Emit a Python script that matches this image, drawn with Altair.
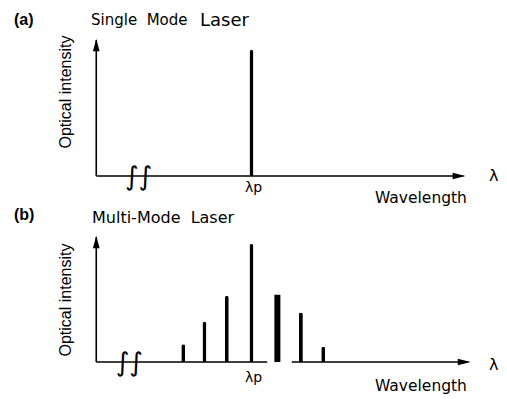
import altair as alt
import pandas as pd

# ---------------- data ----------------
single_mode_number = [0]
single_mode_offset = [0.0]          # wavelength offset from λp (mode spacings)
single_mode_intensity = [1.0]       # relative optical intensity

multi_mode_number = [-3, -2, -1, 0, 1, 2, 3]
multi_mode_offset = [-2.9, -2.0, -1.05, 0.0, 1.1, 2.1, 3.05]
multi_mode_intensity = [0.15, 0.34, 0.56, 1.0, 0.57, 0.42, 0.13]

panel_tags = ["(a)", "(b)"]
title_a = ["Single\u00a0\u00a0Mode", "Laser"]
title_b = ["Multi-Mode\u00a0\u00a0Laser"]
y_title = "Optical intensity"
x_title = "Wavelength"
x_symbol = "λ"
peak_label = "λp"
break_mark = "∫∫"

# ---------------- layout constants ----------------
W = 507
X_DOM = [-10.48, 10.65]
AXIS_X0 = -6.6
SANS = "Liberation Sans"
NARROW = "Liberation Sans Narrow, Liberation Sans"
DJ = "DejaVu Sans"
UP = "M0,-1L0.55,1L-0.55,1Z"
RIGHT = "M1,0L-1,0.5L-1,-0.5Z"

ONE = pd.DataFrame({"k": [0]})


def panel(nums, offs, ints, h, y_dom, x_tip, y_tip, base_segments, break_x,
          tag, tag_y, titles, ylab_y, lam_y, lamp_y, wav_y, wide_mode=None):
    xs = alt.Scale(domain=X_DOM, nice=False, zero=False)
    ys = alt.Scale(domain=y_dom, nice=False, zero=False)
    df = pd.DataFrame({"mode": nums, "offset": offs, "intensity": ints})
    base = alt.Chart(df)

    def X(v):
        return alt.X(datum=v, scale=xs, axis=None)

    def Y(v):
        return alt.Y(datum=v, scale=ys, axis=None)

    def one():
        return alt.Chart(ONE)

    layers = []
    narrow = base.mark_bar(color="black", width=4, cornerRadiusTopLeft=2,
                           cornerRadiusTopRight=2)
    if wide_mode is not None:
        narrow = narrow.transform_filter(f"datum.mode != {wide_mode}")
    layers.append(narrow.encode(
        x=alt.X("offset:Q", scale=xs, axis=None),
        y=alt.Y("intensity:Q", scale=ys, axis=None)))
    if wide_mode is not None:
        layers.append(base.mark_bar(color="black", width=6)
                      .transform_filter(f"datum.mode == {wide_mode}")
                      .encode(x=alt.X("offset:Q", scale=xs, axis=None),
                              y=alt.Y("intensity:Q", scale=ys, axis=None)))
    for (a, b) in base_segments:
        layers.append(one().mark_rule(color="black", strokeWidth=1.6)
                      .encode(x=X(a), x2=alt.X2(datum=b), y=Y(0)))
    layers.append(one().mark_rule(color="black", strokeWidth=1.6)
                  .encode(x=X(AXIS_X0), y=Y(0), y2=alt.Y2(datum=y_tip)))
    layers.append(one().mark_point(shape=UP, filled=True, size=150,
                                   color="black", opacity=1, yOffset=5)
                  .encode(x=X(AXIS_X0), y=Y(y_tip)))
    layers.append(one().mark_point(shape=RIGHT, filled=True, size=170,
                                   color="black", opacity=1, xOffset=-6)
                  .encode(x=X(x_tip), y=Y(0)))
    layers.append(one().mark_text(text=break_mark, font=DJ, fontSize=26,
                                  fontWeight="normal", baseline="middle",
                                  color="black", dy=1)
                  .encode(x=X(break_x), y=Y(0)))
    layers.append(one().mark_text(text=peak_label, font=DJ, fontSize=14,
                                  baseline="alphabetic", color="black", dx=2)
                  .encode(x=X(0.0), y=alt.value(lamp_y)))
    layers.append(one().mark_text(text=x_symbol, font=DJ, fontSize=16,
                                  align="left", baseline="alphabetic",
                                  color="black")
                  .encode(x=alt.value(489), y=alt.value(lam_y)))
    layers.append(one().mark_text(text=x_title, font=DJ, fontSize=15.5,
                                  align="left", baseline="alphabetic",
                                  color="black")
                  .encode(x=alt.value(375), y=alt.value(wav_y)))
    layers.append(one().mark_text(text=y_title, font=NARROW, fontSize=16,
                                  angle=270, align="center",
                                  baseline="middle", color="black")
                  .encode(x=alt.value(66), y=alt.value(ylab_y)))
    layers.append(one().mark_text(text=tag, font=SANS, fontSize=16,
                                  fontWeight="bold", align="left",
                                  baseline="alphabetic", color="black")
                  .encode(x=alt.value(14), y=alt.value(tag_y)))
    for (txt, tx, ty, fs) in titles:
        layers.append(one().mark_text(text=txt, font=DJ, fontSize=fs,
                                      align="left", baseline="alphabetic",
                                      color="black")
                      .encode(x=alt.value(tx), y=alt.value(ty)))
    return alt.layer(*layers).properties(width=W, height=h)


pa = panel(single_mode_number, single_mode_offset, single_mode_intensity,
           199, [-0.1825, 1.3968], 9.08, 1.079, [(AXIS_X0, 9.0)], -4.8,
           panel_tags[0], 25,
           [(title_a[0], 91, 25, 15), (title_a[1], 200, 26, 18)],
           92, 181, 192, 203)
pb = panel(multi_mode_number, multi_mode_offset, multi_mode_intensity,
           200, [-0.3136, 1.3814], 9.3, 1.059,
           [(AXIS_X0, 0.67), (1.71, 9.2)], -5.2,
           panel_tags[1], 21,
           [(title_b[0], 92, 24, 16)],
           101, 171, 183, 192, wide_mode=1)

chart = (alt.vconcat(pa, pb, spacing=0, bounds="flush")
         .properties(padding=0)
         .configure_view(stroke=None))

chart.save("out.html", embed_options={"renderer": "svg", "actions": False})
